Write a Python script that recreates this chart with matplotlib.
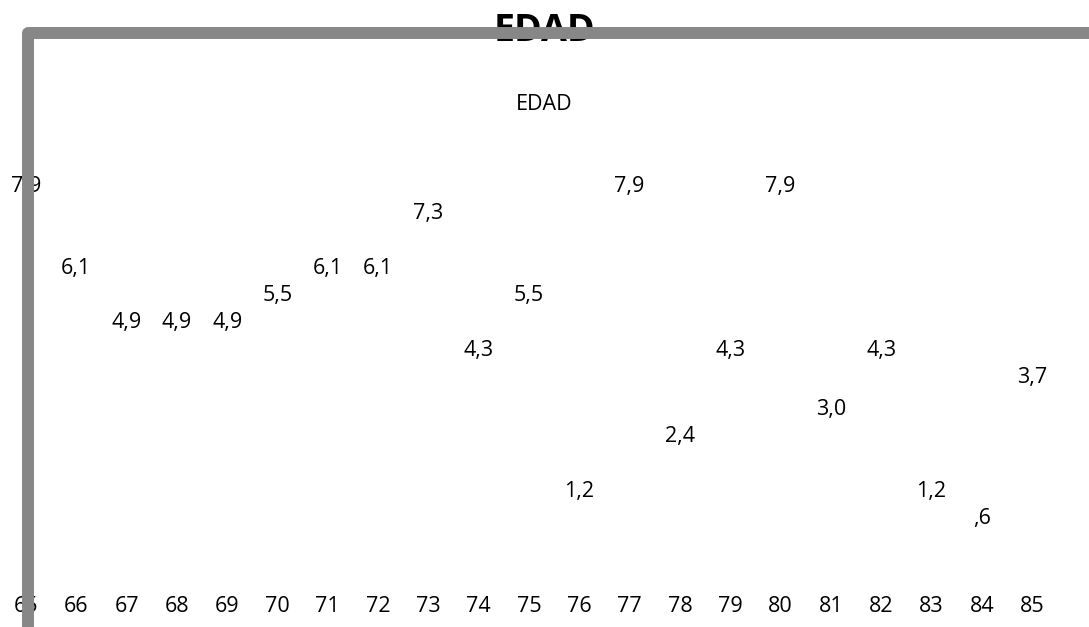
import matplotlib
matplotlib.use("Agg")
import matplotlib.pyplot as plt
from matplotlib.lines import Line2D

# data
ages = [65, 66, 67, 68, 69, 70, 71, 72, 73, 74, 75,
        76, 77, 78, 79, 80, 81, 82, 83, 84, 85]
pct = [7.9, 6.1, 4.9, 4.9, 4.9, 5.5, 6.1, 6.1, 7.3, 4.3, 5.5,
       1.2, 7.9, 2.4, 4.3, 7.9, 3.0, 4.3, 1.2, 0.6, 3.7]
TITLE = "EDAD"
SERIES = "EDAD"

FONT = "Open Sans"
W, H = 1089, 627


def fmt(v):
    s = f"{v:.1f}".replace(".", ",")
    return s[1:] if s.startswith("0") else s


fig = plt.figure(figsize=(W / 100, H / 100), dpi=100)
ax = fig.add_axes([0, 0, 1, 1])
ax.axis("off")

# scale: 65 -> x=26px, 50.3px per year; 0 -> y=546px, 45.55px per unit
xs, x0 = 50.3, 26
ys, y0 = 45.55, 546.0
ax.set_xlim(65 - x0 / xs, 65 + (W - x0) / xs)
ax.set_ylim(-(H - y0) / ys, y0 / ys)

for a, v in zip(ages, pct):
    ax.text(a, v, fmt(v), ha="center", va="center", fontsize=15.5,
            family=FONT, color="black", zorder=2)

tick_y = -(606 - y0) / ys
for a in ages:
    ax.text(a, tick_y, str(a), ha="center", va="center", fontsize=15.5,
            family=FONT, color="black", zorder=2)

fig.text(0.5, 1 - 31 / H, TITLE, ha="center", va="center", fontsize=27,
         fontweight="bold", family=FONT, zorder=1)
fig.text(0.5, 1 - 104 / H, SERIES, ha="center", va="center", fontsize=15.5,
         family=FONT)

# thick grey frame (top + left), drawn over the text
frame = Line2D([1.01, 28 / W, 28 / W], [1 - 33 / H, 1 - 33 / H, -0.01],
               transform=fig.transFigure, color="#878787", linewidth=8.6,
               solid_joinstyle="round", zorder=5)
fig.add_artist(frame)

fig.savefig("out.png", dpi=100)
